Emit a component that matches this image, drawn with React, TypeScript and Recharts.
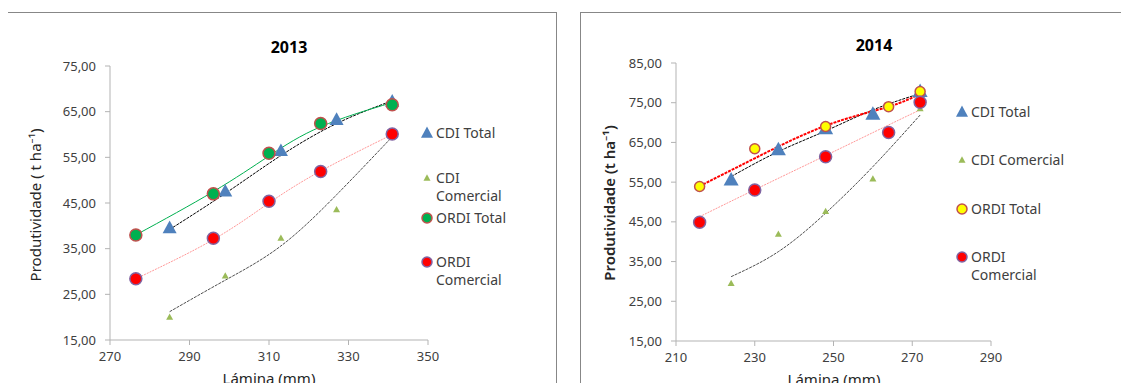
import React from 'react';
import {
  ComposedChart,
  Scatter,
  Line,
  XAxis,
  YAxis,
} from 'recharts';

/* ---------- DATA ---------- */
const names2013 = ['CDI Total', 'CDI\nComercial', 'ORDI Total', 'ORDI\nComercial'];
const names2014 = ['CDI Total', 'CDI Comercial', 'ORDI Total', 'ORDI\nComercial'];

const cdiLamina2013 = [285, 299, 313, 327, 341];
const ordiLamina2013 = [276.5, 296, 310, 323, 341];
const cdiTotal2013 = [39.5, 47.5, 56.4, 63.2, 67.2];
const cdiComercial2013 = [20.0, 29.0, 37.3, 43.5, 59.8];
const ordiTotal2013 = [38.0, 47.0, 55.9, 62.4, 66.5];
const ordiComercial2013 = [28.4, 37.3, 45.4, 51.9, 60.1];
const cdiTotalTrend2013 = [39.2, 47.1, 55.4, 62.4, 67.4];
const cdiComercialTrend2013 = [21.2, 28.1, 35.6, 46.8, 59.5];
const ordiTotalTrend2013 = [38.0, 47.5, 55.3, 61.7, 67.0];
const ordiComercialTrend2013 = [28.4, 37.0, 45.0, 52.0, 60.0];

const cdiLamina2014 = [224, 236, 248, 260, 272];
const ordiLamina2014 = [216, 230, 248, 264, 272];
const cdiTotal2014 = [55.5, 63.1, 68.4, 72.1, 77.8];
const cdiComercial2014 = [29.5, 41.9, 47.6, 55.8, 73.5];
const ordiTotal2014 = [53.9, 63.4, 69.0, 74.0, 77.8];
const ordiComercial2014 = [44.9, 53.0, 61.4, 67.5, 75.1];
const cdiTotalTrend2014 = [56.4, 62.7, 67.9, 73.2, 77.3];
const cdiComercialTrend2014 = [31.2, 37.5, 47.2, 58.9, 71.9];
const ordiTotalTrend2014 = [54.0, 61.0, 69.2, 74.0, 77.3];
const ordiComercialTrend2014 = [46.3, 53.1, 61.7, 69.4, 73.2];

const xTicks2013 = [270, 290, 310, 330, 350];
const yTicks2013 = [15, 25, 35, 45, 55, 65, 75];
const xTicks2014 = [210, 230, 250, 270, 290];
const yTicks2014 = [15, 25, 35, 45, 55, 65, 75, 85];

/* ---------- HELPERS ---------- */
const FONT = '"Noto Sans", "Open Sans", Arial, sans-serif';
const AXIS = '#b3b3b3';
const TEXT = '#404040';

const pts = (xs: number[], ys: number[]) => xs.map((x, i) => ({ x, y: ys[i] }));
const fmt = (v: number) => v.toFixed(2).replace('.', ',');

const triangle = (w: number, fill: string) => (props: any) => {
  const { cx, cy } = props;
  const h = w * 0.9;
  return (
    <polygon
      points={`${cx},${cy - h * 0.6} ${cx - w / 2},${cy + h * 0.4} ${cx + w / 2},${cy + h * 0.4}`}
      fill={fill}
    />
  );
};

const circle = (r: number, fill: string, stroke: string) => (props: any) => {
  const { cx, cy } = props;
  return <circle cx={cx} cy={cy} r={r} fill={fill} stroke={stroke} strokeWidth={1.5} />;
};

interface Marker {
  kind: 'tri' | 'circle';
  size: number;
  fill: string;
  stroke?: string;
}

const LegendBox = ({
  names,
  markers,
  tops,
  left,
  top,
}: {
  names: string[];
  markers: Marker[];
  tops: number[];
  left: number;
  top: number;
}) => (
  <div style={{ position: 'absolute', left, top, width: 140, height: 190, fontFamily: FONT }}>
    {names.map((n, i) => {
      const m = markers[i];
      return (
        <div
          key={n}
          style={{ position: 'absolute', left: 0, top: tops[i], display: 'flex', alignItems: 'flex-start' }}
        >
          <svg width={14} height={18} style={{ flex: 'none' }}>
            {m.kind === 'tri' ? (
              <polygon
                points={`7,${9 - m.size * 0.55} ${7 - m.size / 2},${9 + m.size * 0.4} ${7 + m.size / 2},${9 + m.size * 0.4}`}
                fill={m.fill}
              />
            ) : (
              <circle cx={7} cy={9} r={m.size} fill={m.fill} stroke={m.stroke} strokeWidth={1.5} />
            )}
          </svg>
          <span
            style={{
              whiteSpace: 'pre-line',
              fontSize: 14,
              lineHeight: '18px',
              color: TEXT,
              marginLeft: 2,
            }}
          >
            {n}
          </span>
        </div>
      );
    })}
  </div>
);

/* ---------- PANEL ---------- */
interface PanelProps {
  width: number;
  margin: { top: number; right: number; bottom: number; left: number };
  xDomain: [number, number];
  yDomain: [number, number];
  xTicks: number[];
  yTicks: number[];
  cdiX: number[];
  ordiX: number[];
  cdiTotal: number[];
  cdiComercial: number[];
  ordiTotal: number[];
  ordiComercial: number[];
  trends: number[][];
  names: string[];
  triSize: number;
  ordiTotalFill: string;
  ordiTotalR: number;
  trendStyles: { stroke: string; width: number; dash: string }[];
}

const Panel = (p: PanelProps) => {
  const trendX = [p.cdiX, p.cdiX, p.ordiX, p.ordiX];
  return (
    <ComposedChart width={p.width} height={391} margin={p.margin}>
      <XAxis
        type="number"
        dataKey="x"
        domain={p.xDomain}
        ticks={p.xTicks}
        allowDataOverflow
        stroke={AXIS}
        tickSize={5}
        tickMargin={7}
        height={40}
        tick={{ fontSize: 13, fill: TEXT, fontFamily: FONT }}
      />
      <YAxis
        type="number"
        dataKey="y"
        domain={p.yDomain}
        ticks={p.yTicks}
        allowDataOverflow
        stroke={AXIS}
        tickSize={5}
        tickMargin={9}
        width={60}
        tickFormatter={fmt}
        tick={{ fontSize: 13, fill: TEXT, fontFamily: FONT }}
      />
      <Scatter
        name={p.names[0]}
        data={pts(p.cdiX, p.cdiTotal)}
        shape={triangle(p.triSize, '#4f81bd')}
        isAnimationActive={false}
      />
      <Scatter
        name={p.names[1]}
        data={pts(p.cdiX, p.cdiComercial)}
        shape={triangle(7, '#9bbb59')}
        isAnimationActive={false}
      />
      <Scatter
        name={p.names[2]}
        data={pts(p.ordiX, p.ordiTotal)}
        shape={circle(p.ordiTotalR, p.ordiTotalFill, '#c0504d')}
        isAnimationActive={false}
      />
      <Scatter
        name={p.names[3]}
        data={pts(p.ordiX, p.ordiComercial)}
        shape={circle(6, '#ff0000', '#8064a2')}
        isAnimationActive={false}
      />
      {p.trends.map((t, i) => (
        <Line
          key={i}
          type="natural"
          data={pts(trendX[i], t)}
          dataKey="y"
          stroke={p.trendStyles[i].stroke}
          strokeWidth={p.trendStyles[i].width}
          strokeDasharray={p.trendStyles[i].dash}
          dot={false}
          activeDot={false}
          legendType="none"
          isAnimationActive={false}
        />
      ))}
    </ComposedChart>
  );
};

const textDiv = (extra: React.CSSProperties): React.CSSProperties => ({
  position: 'absolute',
  fontFamily: FONT,
  whiteSpace: 'nowrap',
  transform: 'translate(-50%, -50%)',
  ...extra,
});

const markers2013: Marker[] = [
  { kind: 'tri', size: 12, fill: '#4f81bd' },
  { kind: 'tri', size: 7, fill: '#9bbb59' },
  { kind: 'circle', size: 5, fill: '#00b050', stroke: '#c0504d' },
  { kind: 'circle', size: 5, fill: '#ff0000', stroke: '#8064a2' },
];
const markers2014: Marker[] = [
  { kind: 'tri', size: 12, fill: '#4f81bd' },
  { kind: 'tri', size: 7, fill: '#9bbb59' },
  { kind: 'circle', size: 5, fill: '#ffff00', stroke: '#c0504d' },
  { kind: 'circle', size: 5, fill: '#ff0000', stroke: '#8064a2' },
];

export default function App() {
  return (
    <div
      style={{
        position: 'relative',
        width: 1129,
        height: 391,
        margin: -8,
        overflow: 'hidden',
        background: '#fff',
      }}
    >
      {/* panel frames */}
      <div
        style={{
          position: 'absolute',
          left: 7,
          top: 12,
          width: 550,
          height: 400,
          border: '1.5px solid #878787',
          boxSizing: 'border-box',
        }}
      />
      <div
        style={{
          position: 'absolute',
          left: 580,
          top: 12,
          width: 600,
          height: 400,
          border: '1.5px solid #878787',
          boxSizing: 'border-box',
        }}
      />

      <div style={{ position: 'absolute', left: 0, top: 0 }}>
        <Panel
          width={556}
          margin={{ top: 66, right: 128, bottom: 11, left: 50 }}
          xDomain={[270, 350]}
          yDomain={[15, 75]}
          xTicks={xTicks2013}
          yTicks={yTicks2013}
          cdiX={cdiLamina2013}
          ordiX={ordiLamina2013}
          cdiTotal={cdiTotal2013}
          cdiComercial={cdiComercial2013}
          ordiTotal={ordiTotal2013}
          ordiComercial={ordiComercial2013}
          trends={[cdiTotalTrend2013, cdiComercialTrend2013, ordiTotalTrend2013, ordiComercialTrend2013]}
          names={names2013}
          triSize={14}
          ordiTotalFill="#00b050"
          ordiTotalR={6}
          trendStyles={[
            { stroke: '#000', width: 1, dash: '3 1' },
            { stroke: '#222', width: 0.8, dash: '3 1' },
            { stroke: '#00b050', width: 1, dash: '' },
            { stroke: '#ff9999', width: 1, dash: '2 1' },
          ]}
        />
      </div>

      <div style={{ position: 'absolute', left: 565, top: 0 }}>
        <Panel
          width={564}
          margin={{ top: 63, right: 138, bottom: 10, left: 51 }}
          xDomain={[210, 290]}
          yDomain={[15, 85]}
          xTicks={xTicks2014}
          yTicks={yTicks2014}
          cdiX={cdiLamina2014}
          ordiX={ordiLamina2014}
          cdiTotal={cdiTotal2014}
          cdiComercial={cdiComercial2014}
          ordiTotal={ordiTotal2014}
          ordiComercial={ordiComercial2014}
          trends={[cdiTotalTrend2014, cdiComercialTrend2014, ordiTotalTrend2014, ordiComercialTrend2014]}
          names={names2014}
          triSize={15}
          ordiTotalFill="#ffff00"
          ordiTotalR={5}
          trendStyles={[
            { stroke: '#000', width: 1, dash: '3 1' },
            { stroke: '#222', width: 0.8, dash: '3 1' },
            { stroke: '#ff0000', width: 2, dash: '3 1' },
            { stroke: '#ff9999', width: 1, dash: '2 1' },
          ]}
        />
      </div>

      <LegendBox names={names2013} markers={markers2013} tops={[0, 45, 85, 129]} left={420} top={124} />
      <LegendBox names={names2014} markers={markers2014} tops={[0, 48, 97, 145]} left={955} top={103} />

      {/* titles and axis labels */}
      <div style={textDiv({ left: 289, top: 47, fontSize: 16, fontWeight: 700, color: '#000' })}>2013</div>
      <div style={textDiv({ left: 874, top: 45, fontSize: 16, fontWeight: 700, color: '#000' })}>2014</div>
      <div style={textDiv({ left: 35, top: 205, fontSize: 15, color: '#262626', transform: 'translate(-50%, -50%) rotate(-90deg)' })}>
        Produtividade ( t ha⁻¹)
      </div>
      <div style={textDiv({ left: 609, top: 203, fontSize: 15, fontWeight: 600, color: '#262626', transform: 'translate(-50%, -50%) rotate(-90deg)' })}>
        Produtividade  (t ha⁻¹)
      </div>
      <div style={textDiv({ left: 269, top: 378, fontSize: 15, lineHeight: '18px', color: '#262626' })}>Lámina (mm)</div>
      <div style={textDiv({ left: 834, top: 379, fontSize: 15, lineHeight: '18px', color: '#262626' })}>Lámina (mm)</div>
    </div>
  );
}
